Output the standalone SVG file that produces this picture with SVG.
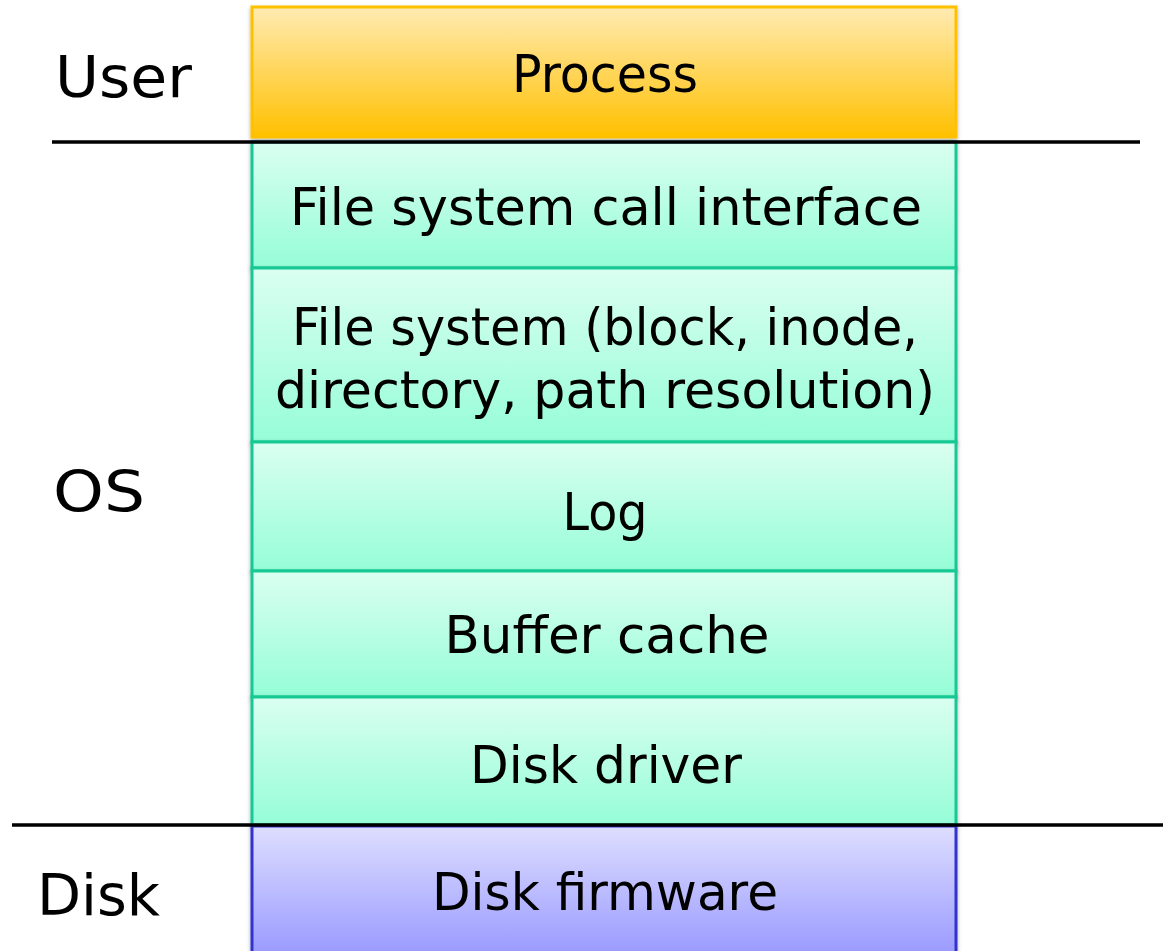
<svg xmlns="http://www.w3.org/2000/svg" width="1163" height="951" viewBox="0 0 1163 951">
<defs>
<linearGradient id="gOrange" x1="0" y1="0" x2="0" y2="1"><stop offset="0" stop-color="#FFEBB3"/><stop offset="1" stop-color="#FFC000"/></linearGradient>
<linearGradient id="gTeal" x1="0" y1="0" x2="0" y2="1"><stop offset="0" stop-color="#DAFFF0"/><stop offset="1" stop-color="#96FDD8"/></linearGradient>
<linearGradient id="gBlue" x1="0" y1="0" x2="0" y2="1"><stop offset="0" stop-color="#DEDEFF"/><stop offset="1" stop-color="#9494FF"/></linearGradient>
<filter id="sh" x="-5%" y="-5%" width="110%" height="115%"><feDropShadow dx="0" dy="2" stdDeviation="2" flood-color="#000" flood-opacity="0.3"/></filter>
</defs>
<style>
.t{font-family:"DejaVu Sans","Liberation Sans",sans-serif;font-size:52px;fill:#000;text-anchor:middle}
.l{font-family:"DejaVu Sans","Liberation Sans",sans-serif;font-size:57px;fill:#000}
.teal{fill:url(#gTeal);stroke:#14C994;stroke-width:3}
.sep{stroke:#000;stroke-width:3.5}
</style>
<rect width="1163" height="951" fill="#fff"/>
<g id="process"><rect x="252" y="7" width="704" height="130" fill="url(#gOrange)" stroke="#FFC000" stroke-width="3" filter="url(#sh)"/><text class="t" x="605" y="92" textLength="186" lengthAdjust="spacingAndGlyphs">Process</text></g>
<g id="fsci"><rect class="teal" x="252" y="142" width="704" height="126" filter="url(#sh)"/><text class="t" x="606" y="225" textLength="632" lengthAdjust="spacingAndGlyphs">File system call interface</text></g>
<g id="fs"><rect class="teal" x="252" y="268" width="704" height="174" filter="url(#sh)"/><text class="t" x="605" y="345" textLength="626" lengthAdjust="spacingAndGlyphs">File system (block, inode,</text><text class="t" x="605" y="408" textLength="660" lengthAdjust="spacingAndGlyphs">directory, path resolution)</text></g>
<g id="log"><rect class="teal" x="252" y="442" width="704" height="129" filter="url(#sh)"/><text class="t" x="605" y="530" textLength="85" lengthAdjust="spacingAndGlyphs">Log</text></g>
<g id="buffer"><rect class="teal" x="252" y="571" width="704" height="126" filter="url(#sh)"/><text class="t" x="607" y="653" textLength="325" lengthAdjust="spacingAndGlyphs">Buffer cache</text></g>
<g id="driver"><rect class="teal" x="252" y="697" width="704" height="128" filter="url(#sh)"/><text class="t" x="606" y="783" textLength="272" lengthAdjust="spacingAndGlyphs">Disk driver</text></g>
<g id="firmware"><rect x="252" y="826" width="704" height="140" fill="url(#gBlue)" stroke="#3333CC" stroke-width="3" filter="url(#sh)"/><text class="t" x="605" y="910" textLength="346" lengthAdjust="spacingAndGlyphs">Disk firmware</text></g>
<g id="connectors">
<line class="sep" x1="52" y1="142" x2="1140" y2="142"/>
<line class="sep" x1="12" y1="825" x2="1163" y2="825"/>
</g>
<g id="labels">
<text class="l" x="55" y="97" textLength="137" lengthAdjust="spacingAndGlyphs">User</text>
<text class="l" x="53" y="512" textLength="92" lengthAdjust="spacingAndGlyphs">OS</text>
<text class="l" x="37" y="915" textLength="123" lengthAdjust="spacingAndGlyphs">Disk</text>
</g>
</svg>
